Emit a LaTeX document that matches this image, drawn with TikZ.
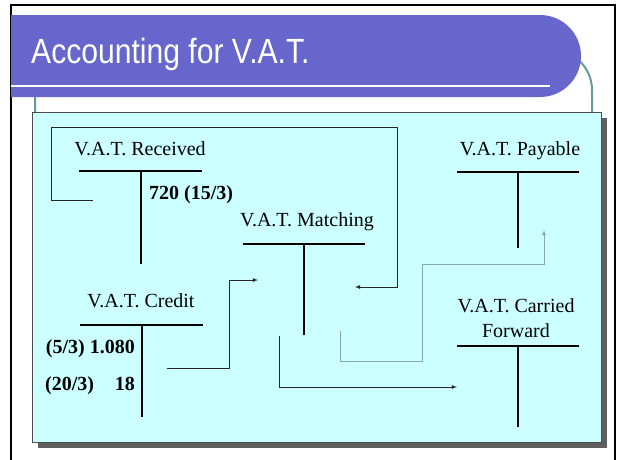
\documentclass[tikz,border=0pt]{standalone}
\usepackage{fontspec}
\setmainfont{Liberation Serif}
\newfontfamily\titlefont[FakeStretch=0.86]{Liberation Sans}
\usepackage{tikz}
\usetikzlibrary{arrows, positioning}
\definecolor{banner}{HTML}{6666CC}
\definecolor{panel}{HTML}{CCFFFF}
\definecolor{edge}{HTML}{669999}
\definecolor{panelshadow}{HTML}{5F5F5F}
\definecolor{pale}{HTML}{85A8A8}
\tikzstyle{account} = [font=\fontsize{20}{25}\selectfont, inner sep=0pt, align=center]
\tikzstyle{entry} = [font=\fontsize{20}{25}\selectfont\bfseries, inner sep=0pt]
\tikzstyle{tline} = [line width=2.6pt]
\tikzstyle{transfer} = [line width=0.8pt, draw=black!85, ->, >=latex]
\tikzstyle{paletransfer} = [line width=0.8pt, draw=pale, ->, >=latex]

\begin{document}
\begin{tikzpicture}[x=1pt, y=-1pt]
\useasboundingbox (0,0) rectangle (620,459);
\clip (0,0) rectangle (620,459);
\fill [white] (0,0) rectangle (620,459);

% Slide
\draw [black, line width=1.6pt] (11,470) -- (11,5) -- (615,5) -- (615,470);
\draw [edge, line width=2pt, rounded corners=40pt] (35,140) -- (35,50) -- (592,50) -- (592,140);
\fill [banner] (11,15) -- (540,15) arc [start angle=-90, end angle=90, radius=41] -- (11,97) -- cycle;
\draw [white, line width=2pt] (11,86) -- (550,86);
\node (title) [anchor=base west, inner sep=0pt, text=white, font=\titlefont\fontsize{35}{40}\selectfont] at (31,63) {Accounting for V.A.T.};
\fill [panelshadow] (38,118) rectangle (607,448);
\filldraw [fill=panel, draw=black!70, line width=0.8pt] (32,112) rectangle (601,442);

% Accounts
\node (received) [account, anchor=base] at (140,155) {V.A.T. Received};
\draw [tline] (79,171) -- (202,171);
\draw [tline] (141,171) -- (141,264);
\node (recventry) [entry, anchor=base west] at (149,199) {720 (15/3)};

\node (matching) [account, anchor=base] at (307,226) {V.A.T. Matching};
\draw [tline] (243,244) -- (365,244);
\draw [tline] (304,244) -- (304,335);

\node (payable) [account, anchor=base] at (520,155) {V.A.T. Payable};
\draw [tline] (457,172) -- (579,172);
\draw [tline] (518,172) -- (518,248);

\node (credit) [account, anchor=base] at (141,307) {V.A.T. Credit};
\draw [tline] (80,325) -- (203,325);
\draw [tline] (142,325) -- (142,417);
\node (creditfirst) [entry, anchor=base east] at (135,353) {(5/3) 1.080};
\node (creditdate) [entry, anchor=base west] at (45,390) {(20/3)};
\node (creditsecond) [entry, anchor=base east] at (135,390) {18};

\node (carried) [account] at (516,318) {V.A.T. Carried\\Forward};
\draw [tline] (457,346) -- (579,346);
\draw [tline] (518,346) -- (518,427);

% Transfers
\coordinate (recvout) at (93,200);
\coordinate (matchin) at (355,287);
\coordinate (creditout) at (167,368);
\coordinate (matchcredit) at (258,280);
\coordinate (matchout) at (279,336);
\coordinate (carriedin) at (457,387);
\coordinate (matchpay) at (340,331);
\coordinate (payin) at (544,230);

\draw [transfer] (recvout) -- (51,200) |- (397,127) |- (matchin);
\draw [transfer] (creditout) -- (229,368) |- (matchcredit);
\draw [transfer] (matchout) |- (carriedin);
\draw [paletransfer] (matchpay) |- (422,361) -- (422,264) -| (payin);

\end{tikzpicture}
\end{document}
